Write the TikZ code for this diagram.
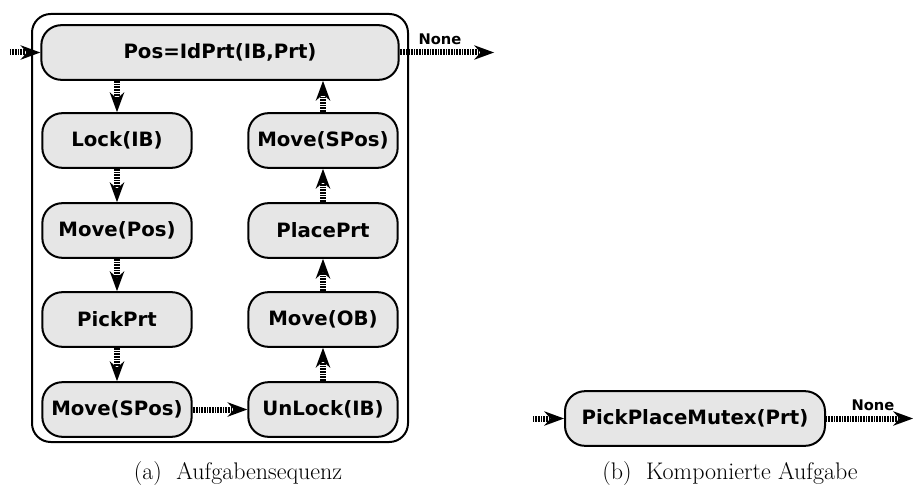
\documentclass[tikz,border=0pt]{standalone}
\usepackage{fontspec}
\newfontfamily\dvsans{DejaVu Sans}
\usetikzlibrary{arrows.meta}
\definecolor{boxgray}{HTML}{E6E6E6}
\tikzset{
  task/.style={draw, line width=1.5pt, fill=boxgray, rounded corners=15pt,
    minimum height=41pt, inner sep=0pt, font=\dvsans\bfseries\fontsize{14.8}{17}\selectfont},
  flow/.style={line width=4.5pt, dash pattern=on 0.6pt off 0.6pt,
    -{Stealth[length=15pt,width=11pt,line width=0pt]}},
  lbl/.style={font=\dvsans\bfseries\fontsize{11}{13}\selectfont},
  subcap/.style={font=\fontsize{18}{21}\selectfont}
}
\begin{document}
\begin{tikzpicture}[x=0.75pt,y=-0.75pt]
				\useasboundingbox (0,0) rectangle (913,492);
				\draw[line width=1.5pt, rounded corners=14pt] (32,14) rectangle (408,442);
				\node[task, minimum width=268pt] (id) at (220,52.5) {Pos=IdPrt(IB,Prt)};
				\node[task, minimum width=112pt] (lock) at (117,140.5) {Lock(IB)};
				\node[task, minimum width=112pt] (movepos) at (117,230.5) {Move(Pos)};
				\node[task, minimum width=112pt] (pick) at (117,319.5) {PickPrt};
				\node[task, minimum width=112pt] (movesposl) at (117,409.5) {Move(SPos)};
				\node[task, minimum width=112pt] (unlock) at (323,409.5) {UnLock(IB)};
				\node[task, minimum width=112pt] (moveob) at (323,319.5) {Move(OB)};
				\node[task, minimum width=112pt] (place) at (323,230.5) {PlacePrt};
				\node[task, minimum width=112pt] (movesposr) at (323,140.5) {Move(SPos)};
				\node[task, minimum width=195pt] (mutex) at (695,418.5) {PickPlaceMutex(Prt)};
				\coordinate (inA) at (10,52.5);
				\coordinate (outA) at (494,52.5);
				\coordinate (inB) at (533,418.5);
				\coordinate (outB) at (913,418.5);
				\draw[flow] (inA) -- (id.west);
				\draw[flow] (id.east) -- (outA);
				\node[lbl] (noneA) at (440,39) {None};
				\draw[flow] (id.south -| lock) -- (lock.north);
				\draw[flow] (lock) -- (movepos);
				\draw[flow] (movepos) -- (pick);
				\draw[flow] (pick) -- (movesposl);
				\draw[flow] (movesposl) -- (unlock);
				\draw[flow] (unlock) -- (moveob);
				\draw[flow] (moveob) -- (place);
				\draw[flow] (place) -- (movesposr);
				\draw[flow] (movesposr.north) -- (movesposr.north |- id.south);
				\draw[flow] (inB) -- (mutex.west);
				\draw[flow] (mutex.east) -- (outB);
				\node[lbl] (noneB) at (873,405) {None};
				\node[subcap] (capa) at (238,474) {(a)\ \ Aufgabensequenz};
				\node[subcap] (capb) at (730,474) {(b)\ \ Komponierte Aufgabe};
			\end{tikzpicture}
\end{document}
